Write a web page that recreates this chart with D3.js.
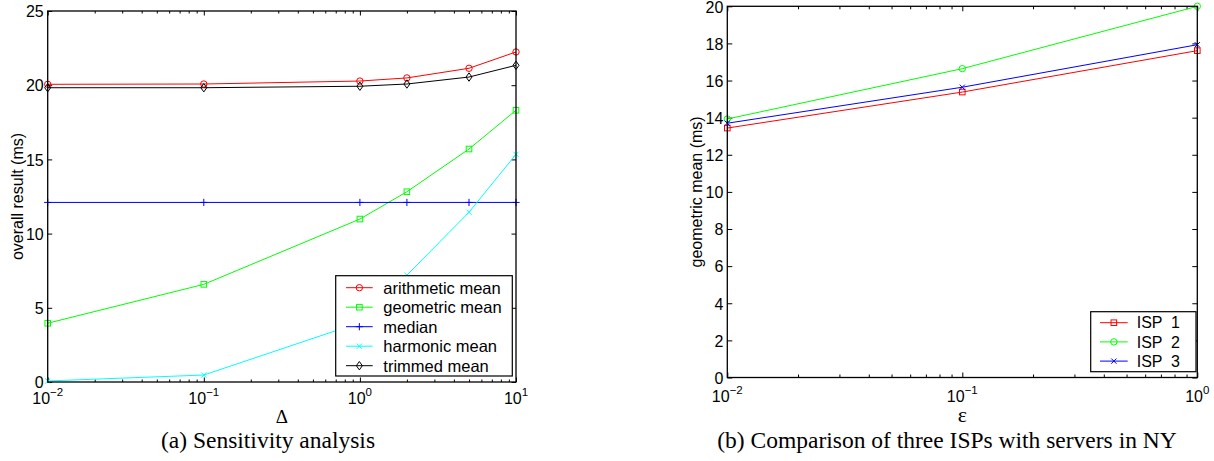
<!DOCTYPE html>
<html>
<head>
<meta charset="utf-8">
<script src="https://cdn.jsdelivr.net/npm/d3@7"></script>
<style>
html,body{margin:0;padding:0;background:#fff;}
svg{display:block;}
</style>
</head>
<body>
<svg id="chart" width="1214" height="461"></svg>
<script>
// ---------------- DATA ----------------
// Panel (a): Sensitivity analysis
const deltaValues = [0.01, 0.1, 1, 2, 5, 10];
const arithmeticMean = [20.06, 20.08, 20.28, 20.49, 21.14, 22.24];
const geometricMean  = [3.96, 6.58, 10.98, 12.82, 15.70, 18.31];
const medianValues   = [12.1, 12.1, 12.1, 12.1, 12.1, 12.1];
const harmonicMean   = [0.07, 0.47, 4.0, 7.2, 11.44, 15.34];
const trimmedMean    = [19.83, 19.83, 19.93, 20.08, 20.55, 21.34];
const leftSeriesNames = ["arithmetic mean", "geometric mean", "median", "harmonic mean", "trimmed mean"];
const leftYTicks = [0, 5, 10, 15, 20, 25];
const leftXTickExponents = [-2, -1, 0, 1];
const leftYLabel = "overall result (ms)";
const leftXLabel = "\u0394";
const leftCaption = "(a) Sensitivity analysis";

// Panel (b): Comparison of three ISPs
const epsilonValues = [0.01, 0.1, 1];
const isp1 = [13.44, 15.38, 17.61];
const isp2 = [13.93, 16.64, 20.0];
const isp3 = [13.70, 15.64, 17.93];
const rightSeriesNames = ["ISP  1", "ISP  2", "ISP  3"];
const rightYTicks = [0, 2, 4, 6, 8, 10, 12, 14, 16, 18, 20];
const rightXTickExponents = [-2, -1, 0];
const rightYLabel = "geometric mean (ms)";
const rightXLabel = "\u03b5";
const rightCaption = "(b) Comparison of three ISPs with servers in NY";

// ---------------- DRAWING ----------------
const SANS = "'Liberation Sans', Arial, Helvetica, sans-serif";
const SERIF = "'Liberation Serif', 'Times New Roman', Times, serif";
const svg = d3.select("#chart");

function marker(g, type, cx, cy, color) {
  let el;
  switch (type) {
    case "o":
      el = g.append("circle").attr("cx", cx).attr("cy", cy).attr("r", 3.2); break;
    case "s":
      el = g.append("rect").attr("x", cx - 2.8).attr("y", cy - 2.8).attr("width", 5.6).attr("height", 5.6); break;
    case "+":
      el = g.append("path").attr("d", `M${cx-3.6},${cy}H${cx+3.6}M${cx},${cy-3.6}V${cy+3.6}`); break;
    case "x":
      el = g.append("path").attr("d", `M${cx-2.6},${cy-2.6}L${cx+2.6},${cy+2.6}M${cx-2.6},${cy+2.6}L${cx+2.6},${cy-2.6}`); break;
    case "d":
      el = g.append("path").attr("d", `M${cx},${cy-4.2}L${cx+3},${cy}L${cx},${cy+4.2}L${cx-3},${cy}Z`); break;
  }
  el.attr("fill", "none").attr("stroke", color).attr("stroke-width", 1);
}

function expText(e) {
  return e < 0 ? "\u2212" + Math.abs(e) : String(e);
}

function panel(opt) {
  const { x0, x1, y0, y1 } = opt.box;
  const x = d3.scaleLog().domain(opt.xDomain).range([x0, x1]);
  const y = d3.scaleLinear().domain(opt.yDomain).range([y1, y0]);
  const g = svg.append("g");

  const majors = opt.xExps.map(e => Math.pow(10, e));
  const minors = [];
  for (let i = 0; i < opt.xExps.length - 1; i++) {
    for (let k = 2; k <= 9; k++) minors.push(k * Math.pow(10, opt.xExps[i]));
  }

  const styleAxis = a => {
    a.select(".domain").remove();
    a.selectAll(".tick line").attr("stroke", "#000").attr("stroke-width", 1);
  };

  // x ticks bottom & top (inward)
  g.append("g").attr("transform", `translate(0,${y1})`)
    .call(d3.axisBottom(x).tickValues(majors).tickSize(-opt.major).tickSizeOuter(0).tickFormat(() => ""))
    .call(styleAxis);
  g.append("g").attr("transform", `translate(0,${y1})`)
    .call(d3.axisBottom(x).tickValues(minors).tickSize(-opt.minor).tickSizeOuter(0).tickFormat(() => ""))
    .call(styleAxis);
  g.append("g").attr("transform", `translate(0,${y0})`)
    .call(d3.axisTop(x).tickValues(majors).tickSize(-opt.major).tickSizeOuter(0).tickFormat(() => ""))
    .call(styleAxis);
  g.append("g").attr("transform", `translate(0,${y0})`)
    .call(d3.axisTop(x).tickValues(minors).tickSize(-opt.minor).tickSizeOuter(0).tickFormat(() => ""))
    .call(styleAxis);

  // y ticks left (with labels) & right
  const yl = g.append("g").attr("transform", `translate(${x0},0)`)
    .call(d3.axisLeft(y).tickValues(opt.yTicks).tickSize(-opt.major).tickSizeOuter(0).tickPadding(4).tickFormat(d3.format("d")))
    .call(styleAxis);
  yl.selectAll(".tick text").attr("font-family", SANS).attr("font-size", 16).attr("fill", "#000").attr("dy", "0.36em");
  g.append("g").attr("transform", `translate(${x1},0)`)
    .call(d3.axisRight(y).tickValues(opt.yTicks).tickSize(-opt.major).tickSizeOuter(0).tickFormat(() => ""))
    .call(styleAxis);

  // x tick labels 10^e
  opt.xExps.forEach(e => {
    const t = g.append("text")
      .attr("x", x(Math.pow(10, e)))
      .attr("y", opt.xTickBaseline)
      .attr("text-anchor", "middle")
      .attr("font-family", SANS).attr("font-size", 16).attr("fill", "#000");
    t.append("tspan").text("10");
    t.append("tspan").attr("dy", -8).attr("font-size", 11.5).text(expText(e));
  });

  // series
  opt.series.forEach(s => {
    const pts = opt.xValues.map((v, i) => [x(v), y(s.values[i])]);
    g.append("path").attr("d", d3.line()(pts))
      .attr("fill", "none").attr("stroke", s.color).attr("stroke-width", 1);
    pts.forEach(p => marker(g, s.marker, p[0], p[1], s.color));
  });

  // frame
  g.append("rect").attr("x", x0).attr("y", y0).attr("width", x1 - x0).attr("height", y1 - y0)
    .attr("fill", "none").attr("stroke", "#000").attr("stroke-width", 1.3);

  // legend
  const L = opt.legend;
  const lg = g.append("g");
  lg.append("rect").attr("x", L.x).attr("y", L.y).attr("width", L.w).attr("height", L.h)
    .attr("fill", "#fff").attr("stroke", "#000").attr("stroke-width", 1.2);
  opt.series.forEach((s, i) => {
    const cy = L.y + L.first + i * L.step;
    lg.append("line").attr("x1", L.x + L.lx0).attr("x2", L.x + L.lx1).attr("y1", cy).attr("y2", cy)
      .attr("stroke", s.color).attr("stroke-width", 1);
    marker(lg, s.marker, L.x + (L.lx0 + L.lx1) / 2, cy, s.color);
    lg.append("text").attr("x", L.x + L.tx).attr("y", cy).attr("dy", "0.36em")
      .attr("font-family", SANS).attr("font-size", L.fs).attr("fill", "#000")
      .style("white-space", "pre").attr("xml:space", "preserve")
      .text(s.name);
  });

  // axis labels
  svg.append("text")
    .attr("transform", `translate(${opt.yLabelX},${(y0 + y1) / 2}) rotate(-90)`)
    .attr("text-anchor", "middle")
    .attr("font-family", SANS).attr("font-size", 16).attr("fill", "#000")
    .text(opt.yLabel);
  svg.append("text")
    .attr("x", (x0 + x1) / 2).attr("y", opt.xLabelBaseline)
    .attr("text-anchor", "middle")
    .attr("font-family", SERIF).attr("font-size", opt.xLabelSize).attr("fill", "#000")
    .text(opt.xLabel);
  svg.append("text")
    .attr("x", opt.captionX).attr("y", opt.captionY)
    .attr("text-anchor", "middle")
    .attr("font-family", SERIF).attr("font-size", 23.5).attr("fill", "#000")
    .text(opt.caption);
}

panel({
  box: { x0: 47.7, x1: 516, y0: 11, y1: 382 },
  xDomain: [0.01, 10], yDomain: [0, 25],
  xExps: leftXTickExponents, yTicks: leftYTicks,
  major: 4.5, minor: 2.5,
  xTickBaseline: 404,
  xValues: deltaValues,
  series: [
    { name: leftSeriesNames[0], values: arithmeticMean, color: "#ff0000", marker: "o" },
    { name: leftSeriesNames[1], values: geometricMean, color: "#00ff00", marker: "s" },
    { name: leftSeriesNames[2], values: medianValues, color: "#0000ff", marker: "+" },
    { name: leftSeriesNames[3], values: harmonicMean, color: "#00ffff", marker: "x" },
    { name: leftSeriesNames[4], values: trimmedMean, color: "#000000", marker: "d" }
  ],
  legend: { x: 335.7, y: 275.7, w: 176.6, h: 100.3, first: 12, step: 19.5, lx0: 10.3, lx1: 37, tx: 47.6, fs: 16.5 },
  yLabel: leftYLabel, yLabelX: 22.5,
  xLabel: leftXLabel, xLabelBaseline: 423, xLabelSize: 19,
  caption: leftCaption, captionX: 268, captionY: 448
});

panel({
  box: { x0: 727.3, x1: 1197.3, y0: 6.3, y1: 377.5 },
  xDomain: [0.01, 1], yDomain: [0, 20],
  xExps: rightXTickExponents, yTicks: rightYTicks,
  major: 5, minor: 3,
  xTickBaseline: 401.5,
  xValues: epsilonValues,
  series: [
    { name: rightSeriesNames[0], values: isp1, color: "#ff0000", marker: "s" },
    { name: rightSeriesNames[1], values: isp2, color: "#00ff00", marker: "o" },
    { name: rightSeriesNames[2], values: isp3, color: "#0000ff", marker: "x" }
  ],
  legend: { x: 1090.7, y: 311.7, w: 105.3, h: 60, first: 11, step: 19.2, lx0: 9.3, lx1: 37, tx: 46, fs: 16 },
  yLabel: rightYLabel, yLabelX: 701.5,
  xLabel: rightXLabel, xLabelBaseline: 421.5, xLabelSize: 22,
  caption: rightCaption, captionX: 947, captionY: 448.3
});
</script>
</body>
</html>
